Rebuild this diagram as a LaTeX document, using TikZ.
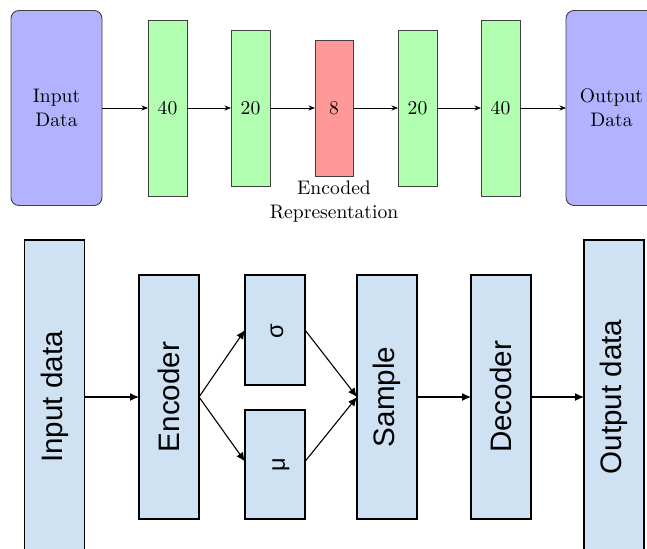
\documentclass[tikz,border=0pt]{standalone}
\usepackage{fontspec}
\newfontfamily\arialfont{Liberation Sans}
\usetikzlibrary{arrows.meta,calc}
\begin{document}
\begin{tikzpicture}[x=0.5pt,y=-0.5pt,
  every node/.style={inner sep=0pt, outer sep=0pt},
  topfont/.style={font=\fontsize{9.8}{12}\selectfont, align=center},
  iobox/.style={draw=black!75, line width=0.45pt, fill=blue!30, rounded corners=4pt, minimum width=45.5pt, minimum height=97.5pt, topfont},
  layerbox/.style={draw=black!75, line width=0.45pt, fill=green!30, minimum width=19.5pt, topfont},
  codebox/.style={draw=black!75, line width=0.45pt, fill=red!40, minimum width=19pt, topfont},
  toparrow/.style={-{Stealth[length=3.3pt,width=2.6pt]}, line width=0.4pt},
  vbox/.style={draw=black, line width=0.55pt, fill={rgb,255:red,207;green,226;blue,243}, minimum width=30pt},
  vtext/.style={rotate=90, font=\arialfont\fontsize{14.8}{17}\selectfont},
  gtext/.style={rotate=90, font=\arialfont\fontsize{11.8}{14}\selectfont},
  botarrow/.style={-{Latex[length=4.5pt,width=4pt]}, line width=0.55pt}
]
\useasboundingbox (0,0) rectangle (647,549);
\clip (0,0) rectangle (647,549);

% ---------- top: autoencoder ----------
\node[iobox] (in) at (56.5,108) {Input\\Data};
\node[layerbox, minimum height=88pt] (e1) at (167.5,108) {40};
\node[layerbox, minimum height=78pt] (e2) at (250.5,108) {20};
\node[codebox, minimum height=68pt] (code) at (334,108) {8};
\node[layerbox, minimum height=78pt] (d2) at (417.5,108) {20};
\node[layerbox, minimum height=88pt] (d1) at (500.5,108) {40};
\node[iobox] (out) at (611.5,108) {Output\\Data};
\node[topfont] (enclabel) at (334,202) {Encoded\\Representation};

\draw[toparrow] (in.east) -- (e1.west);
\draw[toparrow] (e1.east) -- (e2.west);
\draw[toparrow] (e2.east) -- (code.west);
\draw[toparrow] (code.east) -- (d2.west);
\draw[toparrow] (d2.east) -- (d1.west);
\draw[toparrow] (d1.east) -- (out.west);

% ---------- bottom: variational autoencoder ----------
\node[vbox, minimum height=157pt] (inp) at (54.5,397) {};
\node[vtext] (inptext) at (inp.center) {Input data};
\node[vbox, minimum height=122pt] (enc) at (169,397) {};
\node[vtext] (enctext) at (enc.center) {Encoder};
\node[vbox, minimum height=55pt] (sig) at (275,330) {};
\node[gtext] (sigtext) at (277,331) {σ};
\node[vbox, minimum height=54.5pt] (mu) at (275,464.5) {};
\node[gtext] (mutext) at (281,464.5) {μ};
\node[vbox, minimum height=122pt] (smp) at (387,397) {};
\node[vtext] (smptext) at (smp.center) {Sample};
\node[vbox, minimum height=122pt] (dec) at (501,397) {};
\node[vtext] (dectext) at (dec.center) {Decoder};
\node[vbox, minimum height=157pt] (outp) at (614,397) {};
\node[vtext] (outptext) at (outp.center) {Output data};

\draw[botarrow] (inp.east) -- (enc.west);
\draw[botarrow] (enc.east) -- (sig.west);
\draw[botarrow] (enc.east) -- ($(mu.west)+(0,-3)$);
\draw[botarrow] (sig.east) -- (smp.west);
\draw[botarrow] ($(mu.east)+(0,-3)$) -- (smp.west);
\draw[botarrow] (smp.east) -- (dec.west);
\draw[botarrow] (dec.east) -- (outp.west);
\end{tikzpicture}
\end{document}
